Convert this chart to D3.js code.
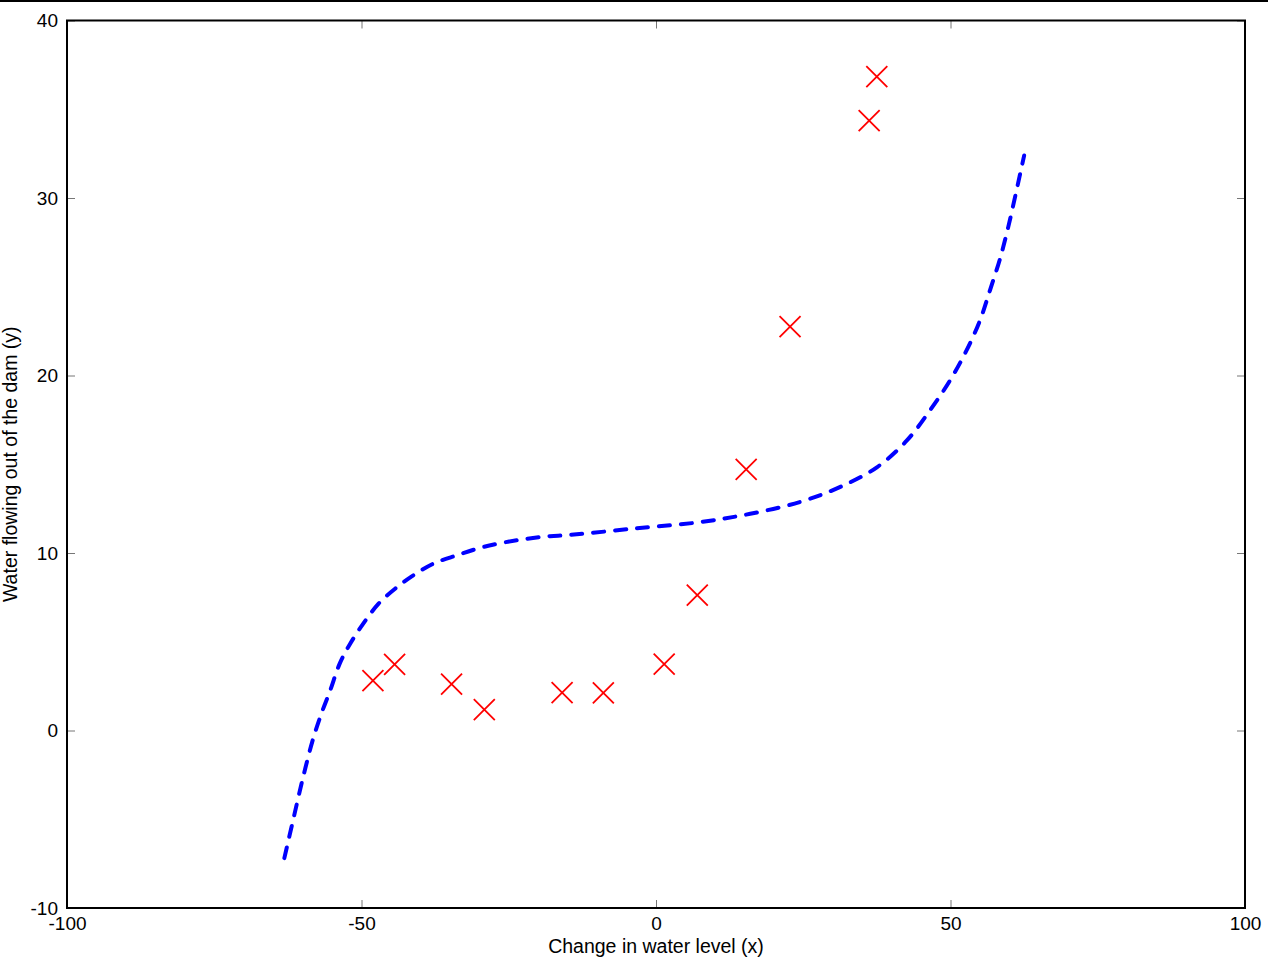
<!DOCTYPE html>
<html>
<head>
<meta charset="utf-8">
<script src="https://cdn.jsdelivr.net/npm/d3@7"></script>
<style>
  body { margin: 0; background: #fff; }
  svg text { font-family: "Liberation Sans", Arial, Helvetica, sans-serif; }
</style>
</head>
<body>
<div id="chart"></div>
<script>
// Training data (red crosses)
const pointX = [-15.94, -29.15, 36.19, 37.49, -48.06, -8.94, 15.31, -34.71, 1.39, -44.38, 7.01, 22.76];
const pointY = [2.13, 1.17, 34.36, 36.84, 2.81, 2.12, 14.71, 2.61, 3.74, 3.73, 7.63, 22.75];

// Fitted curve (blue dashed)
const fitX = [-63.1, -61.6, -59.9, -58.2, -56.8, -55.3, -53.7, -51.9, -49.7, -47.1, -44.3, -41.2, -37.8, -33.8,
              -29.3, -23.6, -18.0, -15.2, -3.9, 7.5, 16.0, 24.4, 31.2, 37.5, 42.6, 46.5, 49.9, 52.7, 55.0,
              56.7, 58.4, 59.8, 61.2, 62.5];
const fitY = [-7.19, -5.03, -2.61, -0.45, 0.96, 2.27, 3.77, 4.90, 6.02, 7.15, 7.99, 8.74, 9.40, 9.87,
              10.34, 10.72, 10.95, 11.0, 11.37, 11.74, 12.21, 12.87, 13.71, 14.83, 16.34, 18.03, 19.71, 21.4, 23.1,
              24.8, 26.57, 28.36, 30.42, 32.39];

const xTicks = [-100, -50, 0, 50, 100];
const yTicks = [-10, 0, 10, 20, 30, 40];

const W = 1268, H = 960;
const pLeft = 67, pRight = 1245, pTop = 20.5, pBottom = 908;

const svg = d3.select('#chart').append('svg')
    .attr('width', W)
    .attr('height', H);

// strip at the very top of the window
svg.append('rect')
    .attr('x', 0).attr('y', 0)
    .attr('width', W).attr('height', 2)
    .attr('fill', '#000');

const x = d3.scaleLinear().domain([-100, 100]).range([pLeft, pRight]);
const y = d3.scaleLinear().domain([-10, 40]).range([pBottom, pTop]);

const fmt = d => String(d);

// axes, ticks pointing inward
const xAxis = svg.append('g')
    .attr('transform', 'translate(0,' + pBottom + ')')
    .call(d3.axisBottom(x).tickValues(xTicks).tickSize(-8).tickPadding(9).tickFormat(fmt));
const yAxis = svg.append('g')
    .attr('transform', 'translate(' + pLeft + ',0)')
    .call(d3.axisLeft(y).tickValues(yTicks).tickSize(-8).tickPadding(9).tickFormat(fmt));
const xTop = svg.append('g')
    .attr('transform', 'translate(0,' + pTop + ')')
    .call(d3.axisTop(x).tickValues(xTicks).tickSize(-8).tickFormat(''));
const yRight = svg.append('g')
    .attr('transform', 'translate(' + pRight + ',0)')
    .call(d3.axisRight(y).tickValues(yTicks).tickSize(-8).tickFormat(''));

[xAxis, yAxis, xTop, yRight].forEach(g => {
  g.select('.domain').remove();
  g.selectAll('.tick line').attr('stroke', '#777').attr('stroke-width', 1);
  g.selectAll('.tick text').attr('fill', '#000').style('font-size', '19px');
});

// frame
svg.append('rect')
    .attr('x', pLeft).attr('y', pTop)
    .attr('width', pRight - pLeft).attr('height', pBottom - pTop)
    .attr('fill', 'none')
    .attr('stroke', '#000')
    .attr('stroke-width', 2);

// axis labels
svg.append('text')
    .attr('x', (pLeft + pRight) / 2)
    .attr('y', 953)
    .attr('text-anchor', 'middle')
    .style('font-size', '19.5px')
    .text('Change in water level (x)');

svg.append('text')
    .attr('transform', 'translate(17,' + (pTop + pBottom) / 2 + ') rotate(-90)')
    .attr('text-anchor', 'middle')
    .style('font-size', '19.5px')
    .text('Water flowing out of the dam (y)');

// fitted curve
const fit = fitX.map((v, i) => ({ x: v, y: fitY[i] }));
const line = d3.line()
    .x(d => x(d.x))
    .y(d => y(d.y))
    .curve(d3.curveCatmullRom);

svg.append('path')
    .datum(fit)
    .attr('d', line)
    .attr('fill', 'none')
    .attr('stroke', '#0000ff')
    .attr('stroke-width', 4)
    .attr('stroke-linecap', 'round')
    .attr('stroke-dasharray', '11,11');

// data crosses
const pts = pointX.map((v, i) => ({ x: v, y: pointY[i] }));
const r = 10.5;
svg.append('g').selectAll('path.cross')
    .data(pts)
    .enter().append('path')
    .attr('class', 'cross')
    .attr('d', d => {
      const cx = x(d.x), cy = y(d.y);
      return 'M' + (cx - r) + ',' + (cy - r) + 'L' + (cx + r) + ',' + (cy + r) +
             'M' + (cx - r) + ',' + (cy + r) + 'L' + (cx + r) + ',' + (cy - r);
    })
    .attr('fill', 'none')
    .attr('stroke', '#ff0000')
    .attr('stroke-width', 1.8);
</script>
</body>
</html>
